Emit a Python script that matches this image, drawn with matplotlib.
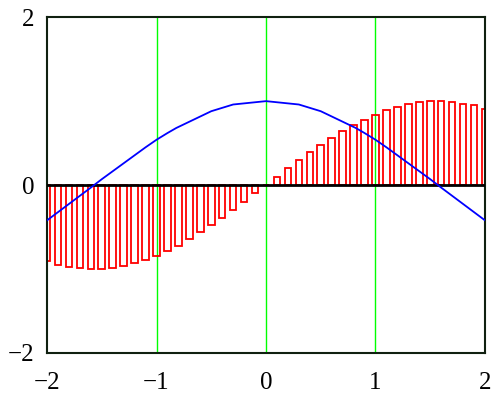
import matplotlib
matplotlib.use("Agg")
import matplotlib.pyplot as plt

bar_x = [-2.0, -1.9, -1.8, -1.7, -1.6, -1.5, -1.4, -1.3, -1.2, -1.1, -1.0,
         -0.9, -0.8, -0.7, -0.6, -0.5, -0.4, -0.3, -0.2, -0.1, 0.0,
         0.1, 0.2, 0.3, 0.4, 0.5, 0.6, 0.7, 0.8, 0.9, 1.0,
         1.1, 1.2, 1.3, 1.4, 1.5, 1.6, 1.7, 1.8, 1.9, 2.0]
bar_y = [-0.91, -0.95, -0.97, -0.99, -1.00, -1.00, -0.99, -0.96, -0.93, -0.89, -0.84,
         -0.78, -0.72, -0.64, -0.56, -0.48, -0.39, -0.30, -0.20, -0.10, 0.00,
         0.10, 0.20, 0.30, 0.39, 0.48, 0.56, 0.64, 0.72, 0.78, 0.84,
         0.89, 0.93, 0.96, 0.99, 1.00, 1.00, 0.99, 0.97, 0.95, 0.91]

line_x = [-2.0, -1.6, -1.5, -1.1, -1.0, -0.9, -0.82, -0.5, -0.3, 0.0,
          0.3, 0.5, 0.82, 0.9, 1.0, 1.1, 1.5, 1.6, 2.0]
line_y = [-0.42, -0.03, 0.07, 0.45, 0.54, 0.62, 0.68, 0.88, 0.96, 1.00,
          0.96, 0.88, 0.68, 0.62, 0.54, 0.45, 0.07, -0.03, -0.42]

grid_x = [-1, 0, 1]
xticks = [-2, -1, 0, 1, 2]
yticks = [-2, 0, 2]

plt.rcParams['font.family'] = ['Liberation Serif', 'DejaVu Serif']

fig = plt.figure(figsize=(4.96, 3.96), dpi=100)
ax = fig.add_axes([0.0948, 0.1086, 0.883, 0.848])

for gx in grid_x:
    ax.axvline(gx, color='#00ff00', lw=1.0, zorder=1)

ax.bar(bar_x, bar_y, width=0.06, fill=False, edgecolor='red', linewidth=1.3, zorder=2)
ax.axhline(0, color='black', lw=2.0, zorder=3)
ax.plot(line_x, line_y, color='blue', lw=1.3, zorder=4)

ax.set_xlim(-2, 2)
ax.set_ylim(-2, 2)
ax.set_xticks(xticks)
ax.set_yticks(yticks)
ax.set_xticklabels(['\u22122', '\u22121', '0', '1', '2'])
ax.set_yticklabels(['\u22122', '0', '2'])
ax.tick_params(length=0, labelsize=18)
ax.tick_params(axis='x', pad=14)
ax.tick_params(axis='y', pad=9)
for s in ax.spines.values():
    s.set_color('#102010')
    s.set_linewidth(1.5)

fig.savefig('out.png', dpi=100)
